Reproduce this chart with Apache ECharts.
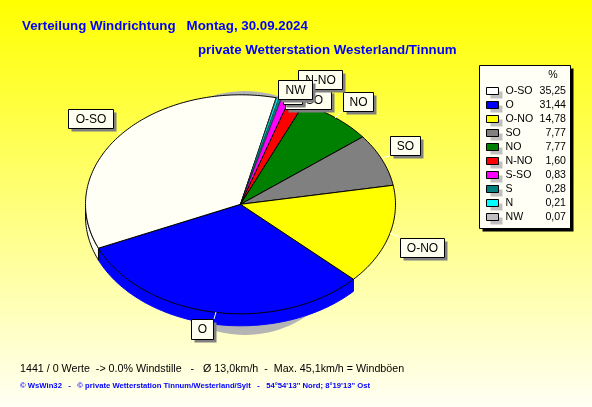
<!DOCTYPE html>
<html><head><meta charset="utf-8">
<style>html,body{margin:0;padding:0}#c{width:592px;height:407px}</style>
<script src="https://cdn.jsdelivr.net/npm/echarts@6/dist/echarts.min.js"></script>
</head><body><div id="c"></div>
<script>
// ---- data ----
const directions = ['O-SO','O','O-NO','SO','NO','N-NO','S-SO','S','N','NW'];
const shares = [35.25,31.44,14.78,7.77,7.77,1.60,0.83,0.28,0.21,0.07];
const shareLabels = ['35,25','31,44','14,78','7,77','7,77','1,60','0,83','0,28','0,21','0,07'];
const sliceOrder = ['O','O-SO','NW','N','S','S-SO','N-NO','NO','SO','O-NO'];
const titleLine1 = 'Verteilung Windrichtung   Montag, 30.09.2024';
const titleLine2 = 'private Wetterstation Westerland/Tinnum';
const footer1 = '1441 / 0 Werte  -> 0.0% Windstille   -   Ø 13,0km/h  -  Max. 45,1km/h = Windböen';
const footer2 = '© WsWin32   -   © private Wetterstation Tinnum/Westerland/Sylt   -   54°54\'13\'\' Nord; 8°19\'13\'\' Ost';
// ---- styles & layout ----
const palette = {'O-SO':'#FFFFF6','O':'#0000FF','O-NO':'#FFFF00','SO':'#808080','NO':'#008000','N-NO':'#FF0000','S-SO':'#FF00FF','S':'#008080','N':'#00FFFF','NW':'#C0C0C0'};
const swatchPalette = Object.assign({}, palette, {'O-SO':'#FFFFFF'});
const pie = {cx:240.5, cy:204.3, rx:155, ry:109.5, depth:12, startDeg:43.2};
const labelBoxes = [ // drawn in this order
 {t:'O-SO',x:68,y:109,w:45,h:19,lead:[118,134,121,131]},
 {t:'O',x:191,y:319,w:22,h:20,lead:[214,319,216,312]},
 {t:'O-NO',x:400,y:238,w:44,h:19,lead:[390,233,399,237]},
 {t:'SO',x:390,y:136,w:30,h:19,lead:[382,158,392,155]},
 {t:'NO',x:343,y:92,w:30,h:19,lead:[335,118,343,110]},
 {t:'S-SO',x:285,y:90,w:46,h:19},
 {t:'S',x:283,y:84,w:19,h:19},
 {t:'N',x:283,y:85,w:19,h:19},
 {t:'N-NO',x:298,y:70,w:44,h:19},
 {t:'NW',x:278,y:80,w:34,h:19}
];
const FF = '"Liberation Sans", Arial, sans-serif';

function arc(a0,a1,dy){
  const pts=[], n=Math.max(2,Math.ceil(Math.abs(a1-a0)/1));
  for(let i=0;i<=n;i++){const t=(a0+(a1-a0)*i/n)*Math.PI/180;
    pts.push([pie.cx+pie.rx*Math.cos(t),pie.cy+dy+pie.ry*Math.sin(t)]);}
  return pts;
}
const total = shares.reduce((a,b)=>a+b,0);
let acc = pie.startDeg;
const sliceData = sliceOrder.map(name=>{
  const v = shares[directions.indexOf(name)];
  const a0 = acc, a1 = acc + v/total*360; acc = a1;
  return {name, value:[a0,a1,v]};
});

function renderSide(params, api){
  const d = sliceData[params.dataIndex], name=d.name, c=palette[name];
  const a0=api.value(0), a1=api.value(1);
  const s=Math.max(a0,0), e=Math.min(a1,180);
  if(e<=s) return {type:'group',children:[]};
  const pts=arc(s,e,pie.depth).concat(arc(e,s,0));
  return {type:'polygon',shape:{points:pts},style:{fill:c,stroke:name==='O'?c:'#000',lineWidth:1}};
}
function renderTop(params, api){
  const name=sliceData[params.dataIndex].name;
  const a0=api.value(0), a1=api.value(1), v=api.value(2);
  const pts=[[pie.cx,pie.cy]].concat(arc(a0,a1,0));
  return {type:'polygon',shape:{points:pts},style:{fill:palette[name],stroke:'#000',lineWidth:v<1?0.4:1}};
}
function box(x,y,w,h,fill,stroke,z){
  return {type:'rect',z:z,shape:{x:x+.5,y:y+.5,width:w,height:h},style:{fill:fill,stroke:stroke||null,lineWidth:1}};
}
function txt(s,x,y,o,z){
  return {type:'text',z:z,x:x,y:y,style:Object.assign({text:s,fill:'#000',font:'10.6px '+FF,verticalAlign:'middle',align:'left'},o||{})};
}
const g=[];
g.push(txt(titleLine1,22,26,{fill:'#0000FF',font:'bold 13.3px '+FF},1));
g.push(txt(titleLine2,198,50,{fill:'#0000FF',font:'bold 13.3px '+FF},1));
g.push(txt(footer1,20,369,{font:'10.7px '+FF},1));
g.push(txt(footer2,20,386,{fill:'#0000FF',font:'bold 7.7px '+FF},1));
g.push(box(482,68,91,163,'#000',null,1));
g.push(box(479,65,91,163,'#FFFFF6','#000',2));
g.push(txt('%',553,75,{align:'center'},3));
directions.forEach((n,i)=>{
  const y=87+i*14.03;
  g.push(box(490,Math.round(y)+4,12,7,'#C0C0C0',null,3));
  g.push(box(486,Math.round(y),12,7,swatchPalette[n],'#000',4));
  g.push(txt(n,505.5,y+4,{},5));
  g.push(txt(shareLabels[i],566,y+4,{align:'right'},5));
});
labelBoxes.forEach((b,i)=>{
  const z=20+i*3;
  if(b.lead) g.push({type:'line',z:12,shape:{x1:b.lead[0],y1:b.lead[1],x2:b.lead[2],y2:b.lead[3]},style:{stroke:'#fff',lineWidth:1}});
  g.push(box(b.x+3,b.y+3,b.w,b.h,'#808080',null,z));
  g.push(box(b.x,b.y,b.w,b.h,'#FFFFF0','#000',z+1));
  g.push(txt(b.t,b.x+b.w/2+.5,b.y+b.h/2+1,{align:'center',font:'12px '+FF},z+2));
});

const chart=echarts.init(document.getElementById('c'),null,{renderer:'canvas'});
chart.setOption({
  animation:false,
  backgroundColor:{type:'linear',x:0,y:0,x2:0,y2:1,colorStops:[{offset:0,color:'#FFFF00'},{offset:1,color:'#FFFFF4'}]},
  graphic:{elements:g},
  series:[
   {type:'custom',coordinateSystem:'none',silent:true,z:2,data:[[0]],
    renderItem:()=>({type:'ellipse',shape:{cx:245,cy:213,rx:115,ry:122},style:{fill:'#B4B4B4'}})},
   {type:'custom',coordinateSystem:'none',silent:true,z:3,data:sliceData,renderItem:renderSide},
   {type:'custom',coordinateSystem:'none',silent:true,z:4,data:sliceData,renderItem:renderTop}
  ]
});
</script></body></html>
